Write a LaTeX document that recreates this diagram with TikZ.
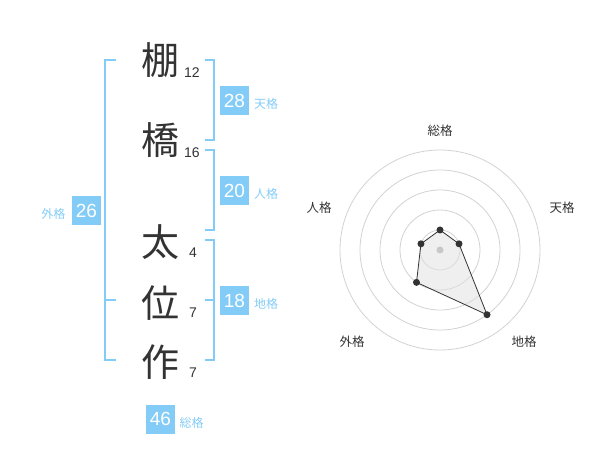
\documentclass[tikz,border=0pt]{standalone}
\usepackage{fontspec}
\setmainfont{Liberation Sans}
\newfontfamily\jp{Noto Sans CJK JP}
\definecolor{kblue}{RGB}{132,204,248}
\definecolor{ink}{RGB}{51,51,51}
\definecolor{ring}{RGB}{210,210,210}
\definecolor{hub}{RGB}{200,200,200}
\definecolor{area}{RGB}{225,225,225}
\tikzset{
  kanji/.style={inner sep=0pt, text=ink, font=\jp\fontsize{38}{38}\selectfont},
  stroke/.style={inner sep=0pt, text=ink, font=\fontsize{14}{14}\selectfont},
  valbox/.style={fill=kblue, text=white, minimum width=29pt, minimum height=29pt, inner sep=0pt, font=\fontsize{19}{19}\selectfont},
  vallabel/.style={inner sep=0pt, text=kblue, font=\jp\fontsize{12}{12}\selectfont},
  bracket/.style={draw=kblue, line width=2pt},
  axislabel/.style={inner sep=0pt, text=ink, font=\jp\fontsize{12.5}{12.5}\selectfont},
  ringline/.style={draw=ring, line width=0.8pt},
  dot/.style={circle, fill=ink, inner sep=0pt, minimum size=7pt},
}
\begin{document}
\begin{tikzpicture}[x=1pt,y=-1pt]
\useasboundingbox (0,0) rectangle (600,470);
% characters
\node[kanji] (c1) at (160,60) {棚};
\node[stroke] (n1) at (192,73) {12};
\node[kanji] (c2) at (160,140) {橋};
\node[stroke] (n2) at (192,153) {16};
\node[kanji] (c3) at (160,242) {太};
\node[stroke] (n3) at (193,253) {4};
\node[kanji] (c4) at (160,303) {位};
\node[stroke] (n4) at (193,313) {7};
\node[kanji] (c5) at (160,362) {作};
\node[stroke] (n5) at (193,373) {7};
% brackets
\draw[bracket] (116,60) -- (105,60) -- (105,360) -- (116,360);
\draw[bracket] (105,300) -- (116,300);
\draw[bracket] (205,60) -- (214,60) -- (214,140) -- (205,140);
\draw[bracket] (205,150) -- (214,150) -- (214,230) -- (205,230);
\draw[bracket] (205,240) -- (214,240) -- (214,360) -- (205,360);
\draw[bracket] (205,300) -- (214,300);
% values
\node[valbox] (ten) at (234.5,100.5) {28};
\node[vallabel] (tenl) at (266,104) {天格};
\node[valbox] (jin) at (234.5,190.5) {20};
\node[vallabel] (jinl) at (266,194) {人格};
\node[valbox] (chi) at (234.5,300.5) {18};
\node[vallabel] (chil) at (266,304) {地格};
\node[valbox] (gai) at (86.5,210.5) {26};
\node[vallabel] (gail) at (53.5,214) {外格};
\node[valbox] (sou) at (160.5,419) {46};
\node[vallabel] (soul) at (191.5,423) {総格};
% radar
\begin{scope}[shift={(440,250)}, yscale=-1]
  \foreach \r in {20,40,60,80,100} \draw[ringline] (0,0) circle[radius=\r];
  \coordinate (p1) at (90:20);
  \coordinate (p2) at (18:20);
  \coordinate (p3) at (-54:80);
  \coordinate (p4) at (-126:40);
  \coordinate (p5) at (162:20);
  \fill[area, fill opacity=0.55] (p1) -- (p2) -- (p3) -- (p4) -- (p5) -- cycle;
  \node[circle, fill=hub, inner sep=0pt, minimum size=7pt] (ctr) at (0,0) {};
  \draw[ink, line width=0.8pt] (p1) -- (p2) -- (p3) -- (p4) -- (p5) -- cycle;
  \foreach \p in {p1,p2,p3,p4,p5} \node[dot] at (\p) {};
\end{scope}
\node[axislabel] (a1) at (440,131) {総格};
\node[axislabel] (a2) at (562,208) {天格};
\node[axislabel] (a3) at (524,342) {地格};
\node[axislabel] (a4) at (352,342) {外格};
\node[axislabel] (a5) at (319,208) {人格};
\end{tikzpicture}
\end{document}
